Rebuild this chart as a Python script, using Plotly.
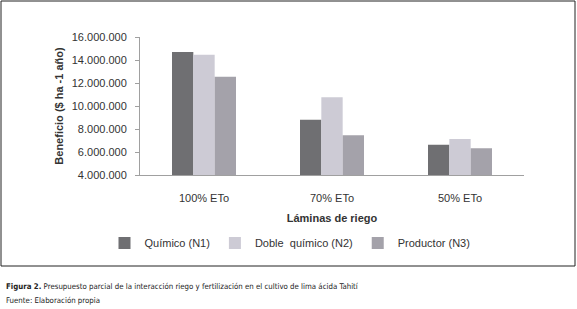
import plotly.graph_objects as go

categories = ["100% ETo", "70% ETo", "50% ETo"]
series_names = ["Químico (N1)", "Doble  químico (N2)", "Productor (N3)"]
n1 = [14700000, 8800000, 6630000]
n2 = [14450000, 10770000, 7140000]
n3 = [12550000, 7450000, 6320000]
colors = ["#6f6f72", "#cdcbd5", "#a4a2aa"]
y_ticks = [4000000, 6000000, 8000000, 10000000, 12000000, 14000000, 16000000]

W, H = 577, 309
L, R, T, B = 140, 53, 37, 134
pw, ph = W - L - R, H - T - B

def px(x):
    return (x - L) / pw

def py(y):
    return (H - B - y) / ph

fig = go.Figure()
for name, vals, c in zip(series_names, [n1, n2, n3], colors):
    fig.add_trace(go.Bar(x=categories, y=vals, name=name, marker=dict(color=c, line=dict(width=0))))

font = "Liberation Sans, Arial, sans-serif"
cap_font = "DejaVu Sans Condensed, Liberation Sans Narrow, Arial Narrow, sans-serif"
fig.update_layout(
    width=W, height=H,
    margin=dict(l=L, r=R, t=T, b=B, autoexpand=False),
    paper_bgcolor="white", plot_bgcolor="white",
    separators=",.",
    barmode="group", bargap=0.5, bargroupgap=0,
    font=dict(family=font, size=11, color="#333333"),
    showlegend=True,
    legend=dict(orientation="h", x=px(290), y=py(243), xanchor="center", yanchor="middle",
                font=dict(size=11, color="#333333"), itemwidth=30, tracegroupgap=0),
    xaxis=dict(showline=True, linecolor="#a0a0a0", linewidth=1, ticks="", showgrid=False,
               ticklabelstandoff=13,
               title=dict(text="<b>Láminas de riego</b>", standoff=11, font=dict(size=11))),
    yaxis=dict(range=[4000000, 16000000], tickvals=y_ticks, tickformat=",d",
               showline=True, linecolor="#a0a0a0", linewidth=1, ticks="outside", ticklen=4,
               tickcolor="#a0a0a0", showgrid=False, zeroline=False, ticklabelstandoff=6,
               title=dict(text="<b>Beneficio ($ ha -1 año)</b>", standoff=5, font=dict(size=11))),
    shapes=[dict(type="rect", xref="paper", yref="paper",
                 x0=px(1), x1=px(575), y0=py(266), y1=py(1),
                 line=dict(color="#222222", width=1))],
    annotations=[
        dict(xref="paper", yref="paper", x=px(4), y=py(286), xanchor="left", yanchor="middle",
             showarrow=False, align="left",
             text="<b>Figura 2.</b> Presupuesto parcial de la interacción riego y fertilización en el cultivo de lima ácida Tahití",
             font=dict(family=cap_font, size=7.8, color="#222222")),
        dict(xref="paper", yref="paper", x=px(4), y=py(300), xanchor="left", yanchor="middle",
             showarrow=False, align="left",
             text="Fuente: Elaboración propia",
             font=dict(family=cap_font, size=7.8, color="#222222")),
    ],
)

fig.write_html("out.html", config={"displayModeBar": False},
               post_script="document.body.style.margin='0';document.body.style.overflow='hidden';")
